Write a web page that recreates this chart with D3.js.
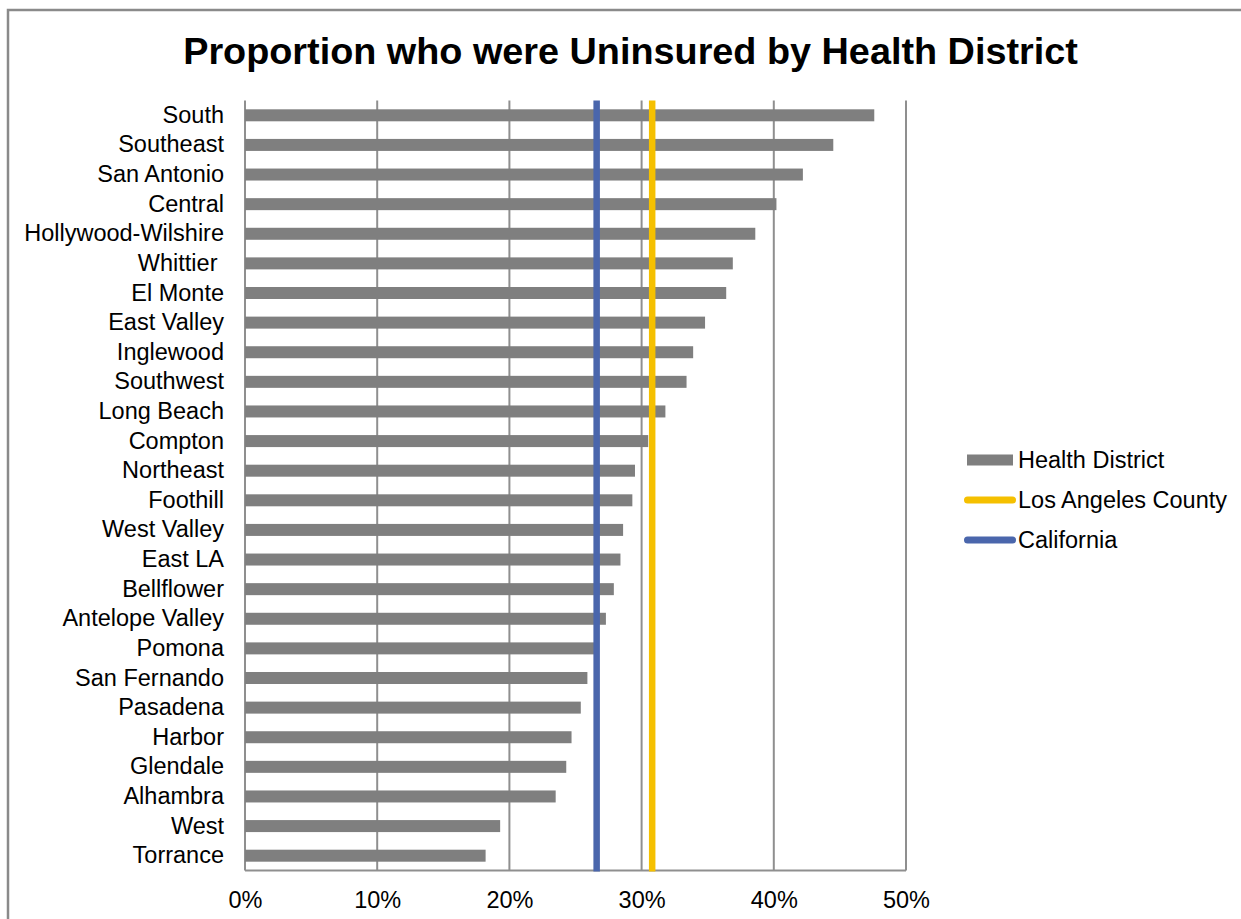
<!DOCTYPE html>
<html>
<head>
<meta charset="utf-8">
<script src="https://cdn.jsdelivr.net/npm/d3@7"></script>
<style>
  html, body { margin: 0; padding: 0; background: #fff; }
  svg { display: block; font-family: "Liberation Sans", Arial, sans-serif; }
</style>
</head>
<body>
<svg id="chart" width="1241" height="919"></svg>
<script>
// Uninsured share (%) by health district, top to bottom
const districts = [
  "South", "Southeast", "San Antonio", "Central", "Hollywood-Wilshire",
  "Whittier ", "El Monte", "East Valley", "Inglewood", "Southwest",
  "Long Beach", "Compton", "Northeast", "Foothill", "West Valley",
  "East LA", "Bellflower", "Antelope Valley", "Pomona", "San Fernando",
  "Pasadena", "Harbor", "Glendale", "Alhambra", "West", "Torrance"
];
const uninsured = [
  47.6, 44.5, 42.2, 40.2, 38.6,
  36.9, 36.4, 34.8, 33.9, 33.4,
  31.8, 30.5, 29.5, 29.3, 28.6,
  28.4, 27.9, 27.3, 26.4, 25.9,
  25.4, 24.7, 24.3, 23.5, 19.3, 18.2
];
// Reference levels
const countyRate = 30.8;     // Los Angeles County
const stateRate = 26.6;      // California
const xTicks = [0, 10, 20, 30, 40, 50];
const legendItems = ["Health District", "Los Angeles County", "California"];

const barColor = "#7f7f7f";
const gridColor = "#8f8f8f";
const countyColor = "#f5c000";
const stateColor = "#4a66ac";

const svg = d3.select("#chart");
const plot = { left: 245, right: 906, top: 100.5, bottom: 870.5 };

// Outer chart frame (top and left edges)
svg.append("path")
  .attr("d", "M8,919 L8,10 L1241,10")
  .attr("fill", "none")
  .attr("stroke", "#8a8a8a")
  .attr("stroke-width", 2.5);

svg.append("text")
  .attr("x", 630.5)
  .attr("y", 64)
  .attr("text-anchor", "middle")
  .attr("font-size", 37.8)
  .attr("font-weight", "bold")
  .attr("fill", "#000")
  .text("Proportion who were Uninsured by Health District");

const x = d3.scaleLinear().domain([0, 50]).range([plot.left, plot.right]);
const y = d3.scaleBand()
  .domain(districts)
  .range([plot.top, plot.bottom])
  .paddingInner(0.595)
  .paddingOuter(0.2975);

// Vertical gridlines
svg.append("g")
  .selectAll("line")
  .data(xTicks)
  .join("line")
  .attr("x1", d => x(d)).attr("x2", d => x(d))
  .attr("y1", plot.top).attr("y2", plot.bottom)
  .attr("stroke", gridColor)
  .attr("stroke-width", 2);

// Bottom axis line
svg.append("line")
  .attr("x1", plot.left).attr("x2", plot.right)
  .attr("y1", plot.bottom).attr("y2", plot.bottom)
  .attr("stroke", gridColor)
  .attr("stroke-width", 2);

// Bars
svg.append("g")
  .selectAll("rect")
  .data(districts.map((d, i) => ({ name: d, value: uninsured[i] })))
  .join("rect")
  .attr("x", x(0))
  .attr("y", d => y(d.name))
  .attr("width", d => x(d.value) - x(0))
  .attr("height", y.bandwidth())
  .attr("fill", barColor);

// Reference lines
const refs = [
  { value: stateRate, color: stateColor },
  { value: countyRate, color: countyColor }
];
svg.append("g")
  .selectAll("line")
  .data(refs)
  .join("line")
  .attr("x1", d => x(d.value)).attr("x2", d => x(d.value))
  .attr("y1", plot.top).attr("y2", plot.bottom + 1)
  .attr("stroke", d => d.color)
  .attr("stroke-width", 6.5);

// Category axis labels
const yAxis = d3.axisLeft(y).tickSize(0).tickPadding(21);
const yg = svg.append("g").attr("transform", `translate(${plot.left},0)`).call(yAxis);
yg.select(".domain").remove();
yg.selectAll("text")
  .attr("font-size", 23.5)
  .attr("font-family", "Liberation Sans, Arial, sans-serif")
  .attr("fill", "#000")
  .style("white-space", "pre");

// Percentage axis labels
const xAxis = d3.axisBottom(x).tickValues(xTicks).tickSize(0).tickPadding(21)
  .tickFormat(d => d + "%");
const xg = svg.append("g").attr("transform", `translate(0,${plot.bottom})`).call(xAxis);
xg.select(".domain").remove();
xg.selectAll("text")
  .attr("font-size", 23.5)
  .attr("font-family", "Liberation Sans, Arial, sans-serif")
  .attr("fill", "#000");

// Legend
const legend = svg.append("g");
const rowY = d3.scalePoint().domain(legendItems).range([460, 540]);
legend.append("rect")
  .attr("x", 967).attr("y", rowY(legendItems[0]) - 5.5)
  .attr("width", 46).attr("height", 11)
  .attr("fill", barColor);
[[legendItems[1], countyColor], [legendItems[2], stateColor]].forEach(([name, color]) => {
  legend.append("line")
    .attr("x1", 967.5).attr("x2", 1012.5)
    .attr("y1", rowY(name)).attr("y2", rowY(name))
    .attr("stroke", color)
    .attr("stroke-width", 7)
    .attr("stroke-linecap", "round");
});
legend.selectAll("text")
  .data(legendItems)
  .join("text")
  .attr("x", 1018)
  .attr("y", d => rowY(d))
  .attr("dy", "0.35em")
  .attr("font-size", 23.5)
  .attr("fill", "#000")
  .text(d => d);
</script>
</body>
</html>
